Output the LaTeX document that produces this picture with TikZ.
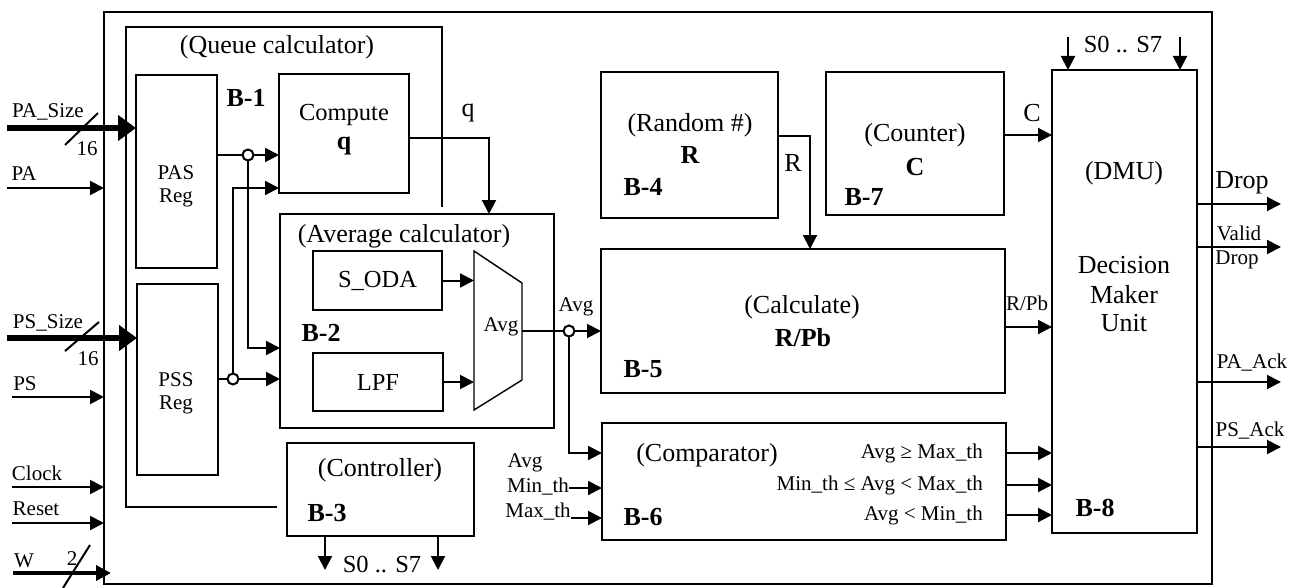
\documentclass[tikz,border=0pt]{standalone}
\usepackage{fontspec}
\setmainfont{Liberation Serif}
\usetikzlibrary{arrows.meta}
\begin{document}
\begin{tikzpicture}[x=1pt,y=-1pt,
  blk/.style={draw, line width=2.6pt, inner sep=0pt, outer sep=0pt},
  wire/.style={line width=2pt},
  arr/.style={wire, -{Triangle[length=14pt,width=14pt]}},
  bus/.style={line width=6.5pt, -{Triangle[length=18pt,width=25pt]}},
  big/.style={font=\fontsize{26}{29}\selectfont, inner sep=0pt},
  med/.style={font=\fontsize{24.5}{28}\selectfont, inner sep=0pt},
  sml/.style={font=\fontsize{21}{23}\selectfont, inner sep=0pt},
  bld/.style={font=\fontsize{26}{29}\selectfont\bfseries, inner sep=0pt},
  jn/.style={circle, draw, line width=2pt, fill=white, minimum size=11pt, inner sep=0pt}
]
\useasboundingbox (0,0) rectangle (1305,588);

% ---------- boxes ----------
\node[draw, line width=2pt, inner sep=0pt, outer sep=0pt, minimum width=1108pt, minimum height=572pt] (outer) at (658,298) {};
\node[blk, minimum width=81pt, minimum height=193pt] (pas) at (176.5,171.5) {};
\node[blk, minimum width=81pt, minimum height=191pt] (pss) at (177.5,379.5) {};
\node[blk, minimum width=130pt, minimum height=119pt] (comp) at (344,133.5) {};
\node[blk, minimum width=274pt, minimum height=214pt] (avg) at (417,321) {};
\node[blk, minimum width=129pt, minimum height=59pt, med] (soda) at (377.5,280.5) {S\_ODA};
\node[blk, minimum width=130pt, minimum height=58pt, med] (lpf) at (378,382) {LPF};
\node[blk, minimum width=187pt, minimum height=93pt] (ctl) at (380.5,489.5) {};
\node[blk, minimum width=177pt, minimum height=146pt] (rnd) at (689.5,145) {};
\node[blk, minimum width=404pt, minimum height=144pt] (calc) at (803,321) {};
\node[blk, minimum width=404pt, minimum height=117pt] (cmp) at (804,481.5) {};
\node[blk, minimum width=178pt, minimum height=143pt] (cnt) at (915,143.5) {};
\node[blk, minimum width=145pt, minimum height=463pt] (dmu) at (1124.5,301.5) {};

% queue calculator (open frame)
\draw[line width=2.6pt] (277,507) -- (126,507) -- (126,27) -- (442,27) -- (442,207);

% trapezoid (Avg mux)
\coordinate (t1) at (474,251);
\coordinate (t2) at (522,283);
\coordinate (t3) at (522,380);
\coordinate (t4) at (474,410);
\coordinate (tout) at (522,331);
\draw[line width=1.4pt] (t1) -- (t2) -- (t3) -- (t4) -- cycle;

% ---------- texts ----------
\node[sml] (lpasz) at (48,112) {PA\_Size};
\node[sml] (l16a) at (87,149) {16};
\node[sml] (lpa) at (24,174) {PA};
\node[sml] (lpssz) at (48,323) {PS\_Size};
\node[sml] (l16b) at (88,359) {16};
\node[sml] (lps) at (25,384) {PS};
\node[sml] (lclk) at (37,473) {Clock};
\node[sml] (lrst) at (36,509) {Reset};
\node[sml] (lw) at (24,561) {W};
\node[sml] (l2) at (72,559) {2};

\node[big] (lqc) at (277,47) {(Queue calculator)};
\node[bld] (lb1) at (246,98) {B-1};
\node[sml, align=center] (lpasr) at (176,186) {PAS\\Reg};
\node[sml, align=center] (lpssr) at (176,393) {PSS\\Reg};
\node[med] (lcomp) at (344,115) {Compute};
\node[bld] (lcq) at (344,146) {q};
\node[big] (lq) at (468,113) {q};
\node[big] (lavc) at (404,236) {(Average calculator)};
\node[bld] (lb2) at (321,333) {B-2};
\node[sml] (ltavg) at (501,327) {Avg};
\node[sml] (lavg) at (576,307) {Avg};

\node[big] (lrnd) at (690,125) {(Random \#)};
\node[bld] (lrr) at (690,155) {R};
\node[bld] (lb4) at (643,187) {B-4};
\node[big] (lr) at (793,163) {R};

\node[big] (lcalc) at (802,307) {(Calculate)};
\node[bld] (lrpb) at (803,338) {R/Pb};
\node[bld] (lb5) at (643,369) {B-5};

\node[big] (lcnt) at (915,135) {(Counter)};
\node[bld] (lcc) at (915,167) {C};
\node[bld] (lb7) at (864,197) {B-7};
\node[big] (lc) at (1032,113) {C};

\node[big] (lcmp) at (707,455) {(Comparator)};
\node[bld] (lb6) at (643,517) {B-6};
\node[sml, anchor=east] (lo1) at (983,453) {Avg ≥ Max\_th};
\node[sml, anchor=east] (lo2) at (983,485) {Min\_th ≤ Avg < Max\_th};
\node[sml, anchor=east] (lo3) at (983,515) {Avg < Min\_th};
\node[sml] (liavg) at (525,463) {Avg};
\node[sml] (limin) at (538,487) {Min\_th};
\node[sml] (limax) at (538,512) {Max\_th};

\node[big] (lctl) at (380,470) {(Controller)};
\node[bld] (lb3) at (327,513) {B-3};
\node[med] (ls1) at (382,565) {S0 .. S7};

\node[big] (ldmu) at (1124,173) {(DMU)};
\node[big] (ldec) at (1124,265) {Decision};
\node[big] (lmak) at (1124,295) {Maker};
\node[big] (lunit) at (1124,323) {Unit};
\node[bld] (lb8) at (1095,508) {B-8};
\node[med] (ls2) at (1123,45) {S0 .. S7};

\node[big] (ldrop) at (1242,183) {Drop};
\node[sml] (lval) at (1239,233) {Valid};
\node[sml] (ldrop2) at (1237,260) {Drop};
\node[sml] (lpaack) at (1252,363) {PA\_Ack};
\node[sml] (lpsack) at (1250,431) {PS\_Ack};
\node[sml] (lrpbs) at (1027,303) {R/Pb};

% ---------- inputs ----------
\coordinate (paS) at (7,128);
\coordinate (psS) at (7,338);
\coordinate (paI) at (7,188);
\coordinate (psI) at (12,397);
\coordinate (clkI) at (12,487);
\coordinate (rstI) at (12,523);
\coordinate (wI) at (13,573);
\coordinate (wE) at (111,573);
\draw[bus] (paS) -- (paS -| pas.west);
\draw[bus] (psS) -- (psS -| pss.west);
\draw[wire] (65,145) -- (98,113);
\draw[wire] (65,351) -- (99,322);
\draw[arr] (paI) -- (paI -| outer.west);
\draw[arr] (psI) -- (psI -| outer.west);
\draw[arr] (clkI) -- (clkI -| outer.west);
\draw[arr] (rstI) -- (rstI -| outer.west);
\draw[line width=3.5pt, -{Triangle[length=15pt,width=15pt]}] (wI) -- (wE);
\draw[wire] (63,588) -- (90,545);

% ---------- internal wiring ----------
\coordinate (j1) at (248,155);
\coordinate (j2) at (233,379);
\coordinate (j3) at (569,331);
\draw[wire] (pas.east |- j1) -- (j1);
\draw[arr] (j1) -- (j1 -| comp.west);
\draw[arr] (j1) |- (avg.west |- 0,348);
\draw[wire] (pss.east |- j2) -- (j2);
\draw[arr] (j2) -- (j2 -| avg.west);
\draw[arr] (j2) |- (comp.west |- 0,188);

\draw[arr] (comp.east |- 0,138) -| (avg.north -| 489,0);
\draw[arr] (soda.east) -- (soda.east -| t1);
\draw[arr] (lpf.east) -- (lpf.east -| t1);
\draw[wire] (tout) -- (j3);
\draw[arr] (j3) -- (j3 -| calc.west);
\draw[arr] (j3) |- (cmp.west |- 0,453);
\node[jn] (jc1) at (j1) {};
\node[jn] (jc2) at (j2) {};
\node[jn] (jc3) at (j3) {};

\draw[arr] (rnd.east |- 0,136) -| (calc.north -| 810,0);
\draw[arr] (cnt.east |- 0,135) -- (dmu.west |- 0,135);
\draw[arr] (calc.east |- 0,327) -- (dmu.west |- 0,327);
\draw[arr] (cmp.east |- lo1) -- (dmu.west |- lo1);
\draw[arr] (cmp.east |- lo2) -- (dmu.west |- lo2);
\draw[arr] (cmp.east |- lo3) -- (dmu.west |- lo3);

\draw[arr] (limin.east |- 0,488) -- (cmp.west |- 0,488);
\draw[arr] (limax.east |- 0,518) -- (cmp.west |- 0,518);

% controller outputs
\coordinate (c1e) at (325,570);
\coordinate (c2e) at (438,570);
\draw[arr] (ctl.south -| c1e) -- (c1e);
\draw[arr] (ctl.south -| c2e) -- (c2e);

% DMU control inputs
\coordinate (d1) at (1068,37);
\coordinate (d2) at (1180,37);
\draw[arr] (d1) -- (d1 |- dmu.north);
\draw[arr] (d2) -- (d2 |- dmu.north);

% DMU outputs
\coordinate (o1) at (1281,204);
\coordinate (o2) at (1281,247);
\coordinate (o3) at (1281,382);
\coordinate (o4) at (1281,447);
\draw[arr] (dmu.east |- o1) -- (o1);
\draw[arr] (dmu.east |- o2) -- (o2);
\draw[arr] (dmu.east |- o3) -- (o3);
\draw[arr] (dmu.east |- o4) -- (o4);
\end{tikzpicture}
\end{document}
